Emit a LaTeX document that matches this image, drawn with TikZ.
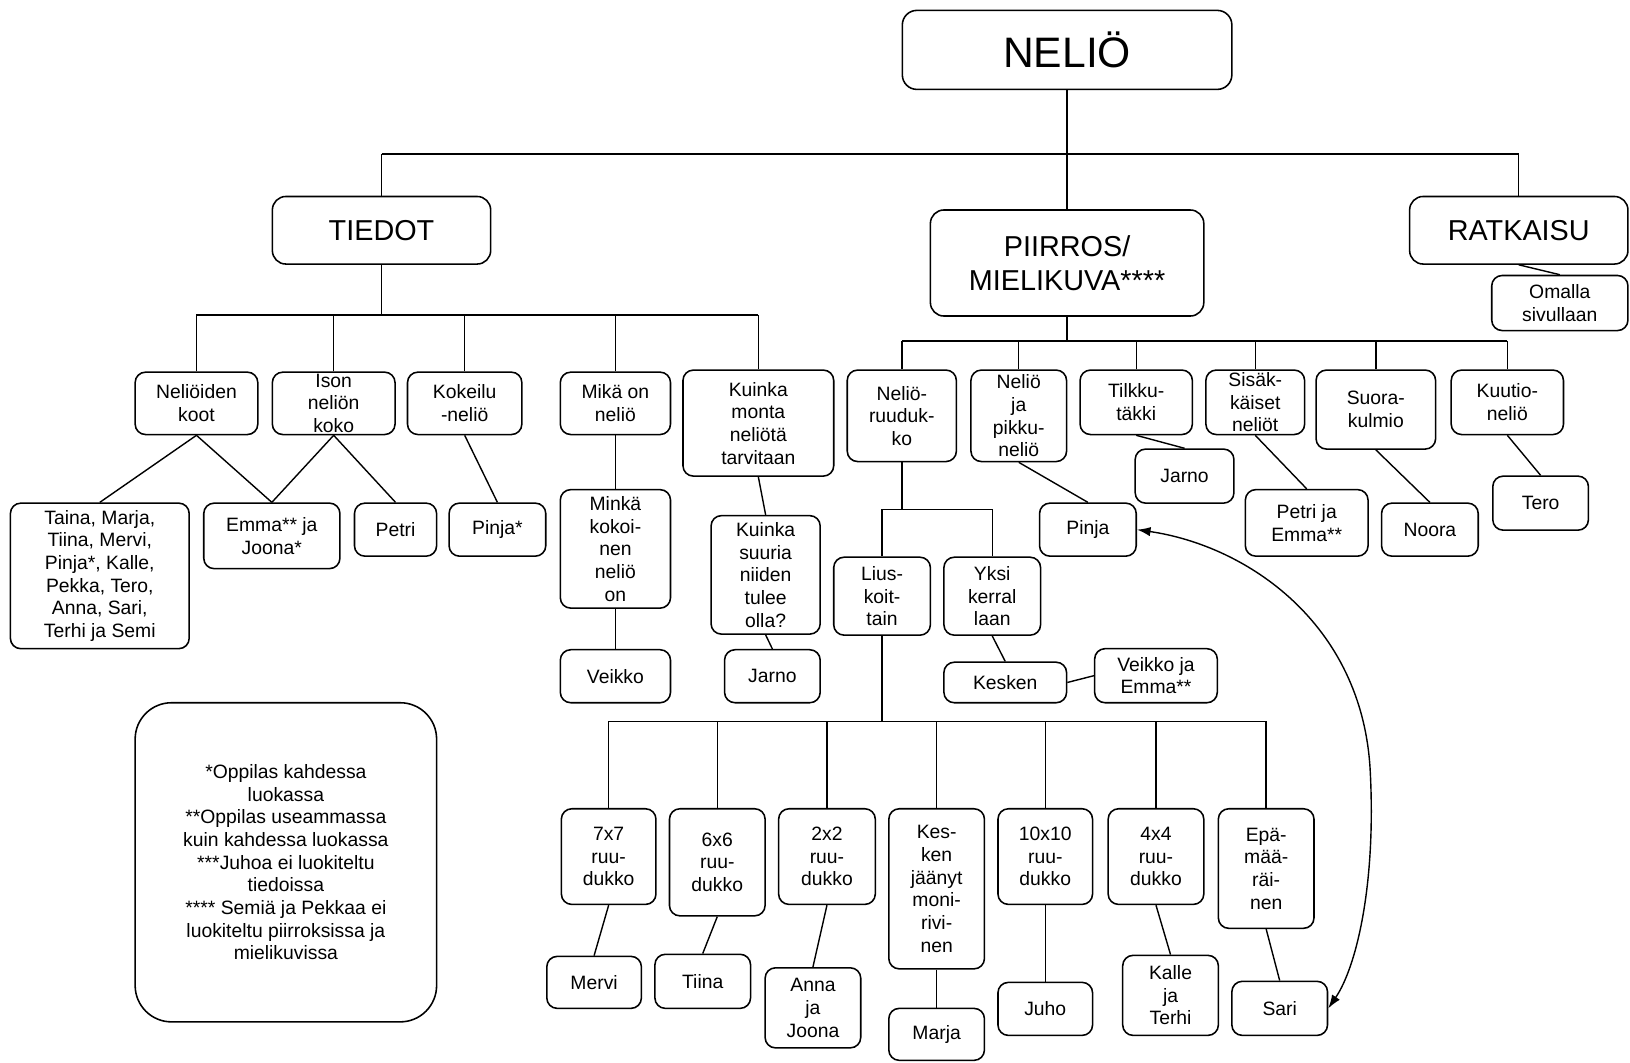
\documentclass[tikz,border=0pt]{standalone}
\usepackage{fontspec}
\setmainfont{Liberation Sans}
\usetikzlibrary{arrows.meta}

\tikzset{
  cell/.style={draw, line width=1.5pt, rounded corners=10pt, inner sep=0pt,
               align=center, font=\fontsize{18.6}{21.8}\selectfont},
  bigcell/.style={rounded corners=13pt, font=\fontsize{27.7}{32.5}\selectfont},
  topcell/.style={rounded corners=14pt, font=\fontsize{41}{48}\selectfont},
  link/.style={line width=1.35pt},
  tip/.style={{Latex[length=13pt,width=9pt]}-{Latex[length=13pt,width=9pt]}}
}

% box from its corners: name, x1, y1, x2, y2, text
\newcommand\cbox[7][]{%
  \node[cell,#1,minimum width={(#5-#3)*1pt},minimum height={(#6-#4)*1pt}]
    (#2) at ({(#3+#5)/2},{(#4+#6)/2}) {#7};}

\begin{document}
\begin{tikzpicture}[x=1pt,y=-1pt]
\useasboundingbox (0,0) rectangle (1568,1022);

% ---- main levels ----
\cbox[topcell]{neli}{868}{10}{1185}{86}{NELIÖ}
\cbox[bigcell]{tiedot}{262}{189}{472}{254}{TIEDOT}
\cbox[bigcell]{piirros}{895}{202}{1158}{304}{PIIRROS/\\MIELIKUVA****}
\cbox[bigcell]{ratk}{1356}{189}{1566}{254}{RATKAISU}
\cbox{omalla}{1435}{265}{1566}{318}{Omalla\\sivullaan}

\coordinate (busA) at (0,148);
\draw[link] (neli.south) -- (neli.south |- busA);
\draw[link] (tiedot.north |- busA) -- (ratk.north |- busA);
\draw[link] (tiedot.north) -- (tiedot.north |- busA);
\draw[link] (piirros.north) -- (piirros.north |- busA);
\draw[link] (ratk.north) -- (ratk.north |- busA);
\draw[link] (ratk.south) -- (omalla.north);

% ---- TIEDOT ----
\cbox{koot}{130}{358}{248}{418}{Neliöiden\\koot}
\cbox{ison}{262}{358}{380}{418}{Ison\\neliön\\koko}
\cbox{kokeilu}{392}{358}{502}{418}{Kokeilu\\-neliö}
\cbox{mika}{539}{358}{645}{418}{Mikä on\\neliö}
\cbox{kuinka}{657}{356}{802}{458}{Kuinka\\monta\\neliötä\\tarvitaan}

\coordinate (busB) at (0,303);
\draw[link] (tiedot.south) -- (tiedot.south |- busB);
\draw[link] (koot.north |- busB) -- (kuinka.north |- busB);
\foreach \n in {koot,ison,kokeilu,mika,kuinka}
  \draw[link] (\n.north) -- (\n.north |- busB);

\cbox{taina}{10}{484}{182}{624}{Taina, Marja,\\Tiina, Mervi,\\Pinja*, Kalle,\\Pekka, Tero,\\Anna, Sari,\\Terhi ja Semi}
\cbox{emma}{196}{484}{327}{547}{Emma** ja\\Joona*}
\cbox{petri}{341}{484}{420}{535}{Petri}
\cbox{pinjaA}{432}{484}{525}{535}{Pinja*}
\cbox{minka}{539}{471}{645}{585}{Minkä\\kokoi-\\nen\\neliö\\on}
\cbox{veikko}{539}{625}{645}{676}{Veikko}
\cbox{suuria}{684}{496}{789}{610}{Kuinka\\suuria\\niiden\\tulee\\olla?}
\cbox{jarnoA}{697}{625}{789}{676}{Jarno}

\draw[link] (koot.south) -- (taina.north);
\draw[link] (koot.south) -- (emma.north);
\draw[link] (ison.south) -- (emma.north);
\draw[link] (ison.south) -- (petri.north);
\draw[link] (kokeilu.south) -- (pinjaA.north);
\draw[link] (mika.south) -- (minka.north);
\draw[link] (minka.south) -- (veikko.north);
\draw[link] (kuinka.south) -- (suuria.north);
\draw[link] (suuria.south) -- (jarnoA.north);

% ---- PIIRROS / MIELIKUVA ----
\cbox{ruud}{815}{356}{920}{444}{Neliö-\\ruuduk-\\ko}
\cbox{pikku}{934}{356}{1026}{444}{Neliö\\ja\\pikku-\\neliö}
\cbox{tilkku}{1039}{356}{1147}{418}{Tilkku-\\täkki}
\cbox{sisak}{1160}{356}{1255}{418}{Sisäk-\\käiset\\neliöt}
\cbox{suora}{1266}{356}{1381}{432}{Suora-\\kulmio}
\cbox{kuutio}{1396}{356}{1504}{418}{Kuutio-\\neliö}

\coordinate (busC) at (0,328);
\draw[link] (piirros.south) -- (piirros.south |- busC);
\draw[link] (ruud.north |- busC) -- (kuutio.north |- busC);
\foreach \n in {ruud,pikku,tilkku,sisak,suora,kuutio}
  \draw[link] (\n.north) -- (\n.north |- busC);

\cbox{jarnoB}{1092}{432}{1187}{484}{Jarno}
\cbox{petriB}{1198}{471}{1316}{535}{Petri ja\\Emma**}
\cbox{noora}{1329}{484}{1422}{535}{Noora}
\cbox{tero}{1436}{458}{1528}{510}{Tero}
\cbox{pinjaB}{1000}{484}{1093}{535}{Pinja}

\draw[link] (pikku.south) -- (pinjaB.north);
\draw[link] (tilkku.south) -- (jarnoB.north);
\draw[link] (sisak.south) -- (petriB.north);
\draw[link] (suora.south) -- (noora.north);
\draw[link] (kuutio.south) -- (tero.north);

\cbox{liusk}{802}{536}{895}{611}{Lius-\\koit-\\tain}
\cbox{yksi}{908}{536}{1001}{611}{Yksi\\kerral\\laan}
\cbox{kesken}{908}{637}{1026}{676}{Kesken}
\cbox{veikkoB}{1053}{624}{1171}{676}{Veikko ja\\Emma**}

\coordinate (busD) at (0,490);
\draw[link] (ruud.south) -- (ruud.south |- busD);
\draw[link] (liusk.north |- busD) -- (yksi.north |- busD);
\draw[link] (liusk.north) -- (liusk.north |- busD);
\draw[link] (yksi.north) -- (yksi.north |- busD);
\draw[link] (yksi.south) -- (kesken.north);
\draw[link] (kesken.east) -- (veikkoB.west);

% ---- grids ----
\cbox{g7}{540}{778}{631}{870}{7x7\\ruu-\\dukko}
\cbox{g6}{644}{778}{736}{881}{6x6\\ruu-\\dukko}
\cbox{g2}{749}{778}{842}{870}{2x2\\ruu-\\dukko}
\cbox{kesk}{855}{778}{947}{932}{Kes-\\ken\\jäänyt\\moni-\\rivi-\\nen}
\cbox{g10}{960}{778}{1051}{870}{10x10\\ruu-\\dukko}
\cbox{g4}{1066}{778}{1158}{870}{4x4\\ruu-\\dukko}
\cbox{epa}{1172}{778}{1264}{893}{Epä-\\mää-\\räi-\\nen}

\coordinate (busE) at (0,694);
\draw[link] (liusk.south) -- (liusk.south |- busE);
\draw[link] (g7.north |- busE) -- (epa.north |- busE);
\foreach \n in {g7,g6,g2,kesk,g10,g4,epa}
  \draw[link] (\n.north) -- (\n.north |- busE);

\cbox{mervi}{526}{920}{617}{970}{Mervi}
\cbox{tiina}{630}{918}{722}{970}{Tiina}
\cbox{anna}{736}{931}{828}{1008}{Anna\\ja\\Joona}
\cbox{marja}{855}{970}{947}{1020}{Marja}
\cbox{juho}{960}{945}{1051}{996}{Juho}
\cbox{kalle}{1080}{919}{1172}{996}{Kalle\\ja\\Terhi}
\cbox{sari}{1185}{944}{1277}{996}{Sari}

\draw[link] (g7.south) -- (mervi.north);
\draw[link] (g6.south) -- (tiina.north);
\draw[link] (g2.south) -- (anna.north);
\draw[link] (kesk.south) -- (marja.north);
\draw[link] (g10.south) -- (juho.north);
\draw[link] (g4.south) -- (kalle.north);
\draw[link] (epa.south) -- (sari.north);

% two-headed curve between the two Pinja/Sari boxes
\draw[link,tip] (pinjaB.east) .. controls (1200,525) and (1310,600) .. (1318,740)
  .. controls (1324,850) and (1305,930) .. (sari.east);

% ---- footnotes ----
\cbox[rounded corners=35pt]{notes}{130}{676}{420}{983}{*Oppilas kahdessa\\luokassa\\**Oppilas useammassa\\kuin kahdessa luokassa\\***Juhoa ei luokiteltu\\tiedoissa\\**** Semiä ja Pekkaa ei\\luokiteltu piirroksissa ja\\mielikuvissa}

\end{tikzpicture}
\end{document}
